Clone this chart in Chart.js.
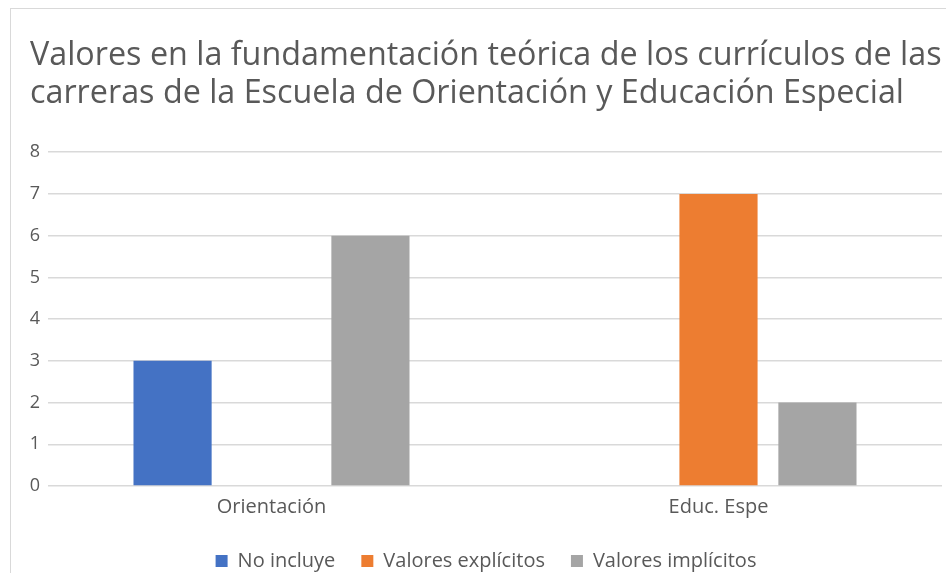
<!DOCTYPE html>
<html>
<head>
<meta charset="utf-8">
<script src="https://cdn.jsdelivr.net/npm/chart.js@4"></script>
<style>
  body { margin: 0; background: #fff; overflow: hidden; }
  #wrap { position: relative; width: 946px; height: 573px; overflow: hidden; }
  #frame { position: absolute; left: 10px; top: 8px; width: 950px; height: 580px;
           border-left: 1px solid #d9d9d9; border-top: 1px solid #d9d9d9; }
  canvas { position: absolute; left: 0; top: 0; }
</style>
</head>
<body>
<div id="wrap">
  <div id="frame"></div>
  <canvas id="chart" width="946" height="581"></canvas>
</div>
<script>
// chart data
const categories = ['Orientación', 'Educ. Espe'];
const noIncluye = [3, 0];
const valoresExplicitos = [0, 7];
const valoresImplicitos = [6, 2];
const yTicks = [0, 1, 2, 3, 4, 5, 6, 7, 8];

const textColor = '#595959';
const fontFamily = "'Open Sans', 'Noto Sans', sans-serif";

const ctx = document.getElementById('chart').getContext('2d');
new Chart(ctx, {
    type: 'bar',
    data: {
        labels: categories,
        datasets: [
            { label: 'No incluye', data: noIncluye, backgroundColor: '#4472c4' },
            { label: 'Valores explícitos', data: valoresExplicitos, backgroundColor: '#ed7d31' },
            { label: 'Valores implícitos', data: valoresImplicitos, backgroundColor: '#a5a5a5' }
        ]
    },
    options: {
        responsive: false,
        animation: false,
        devicePixelRatio: 1,
        datasets: {
            bar: { categoryPercentage: 0.664, barPercentage: 0.79 }
        },
        layout: { padding: { left: 30, right: 4, top: 37, bottom: 0 } },
        plugins: {
            title: {
                display: true,
                align: 'start',
                text: ['Valores en la fundamentación teórica de los currículos de las',
                       'carreras de la Escuela de Orientación y Educación Especial'],
                color: textColor,
                font: { family: fontFamily, size: 32.3, weight: 'normal', lineHeight: 1.18 },
                padding: { top: 0, bottom: 39 }
            },
            legend: {
                position: 'bottom',
                labels: {
                    color: textColor,
                    font: { family: fontFamily, size: 20 },
                    boxWidth: 12,
                    boxHeight: 12,
                    padding: 26
                }
            },
            tooltip: { enabled: false }
        },
        scales: {
            x: {
                grid: { display: false },
                border: { display: false },
                ticks: { color: textColor, font: { family: fontFamily, size: 20 }, padding: 1 },
                afterFit: axis => { axis.height = 39; }
            },
            y: {
                min: yTicks[0],
                max: yTicks[yTicks.length - 1],
                afterBuildTicks: axis => { axis.ticks = yTicks.map(v => ({ value: v })); },
                grid: { color: '#d9d9d9', lineWidth: 1.5, drawTicks: false },
                border: { display: false },
                ticks: { color: textColor, font: { family: fontFamily, size: 18 }, padding: 8 },
                afterFit: axis => { axis.width = 18; }
            }
        }
    }
});
</script>
</body>
</html>
